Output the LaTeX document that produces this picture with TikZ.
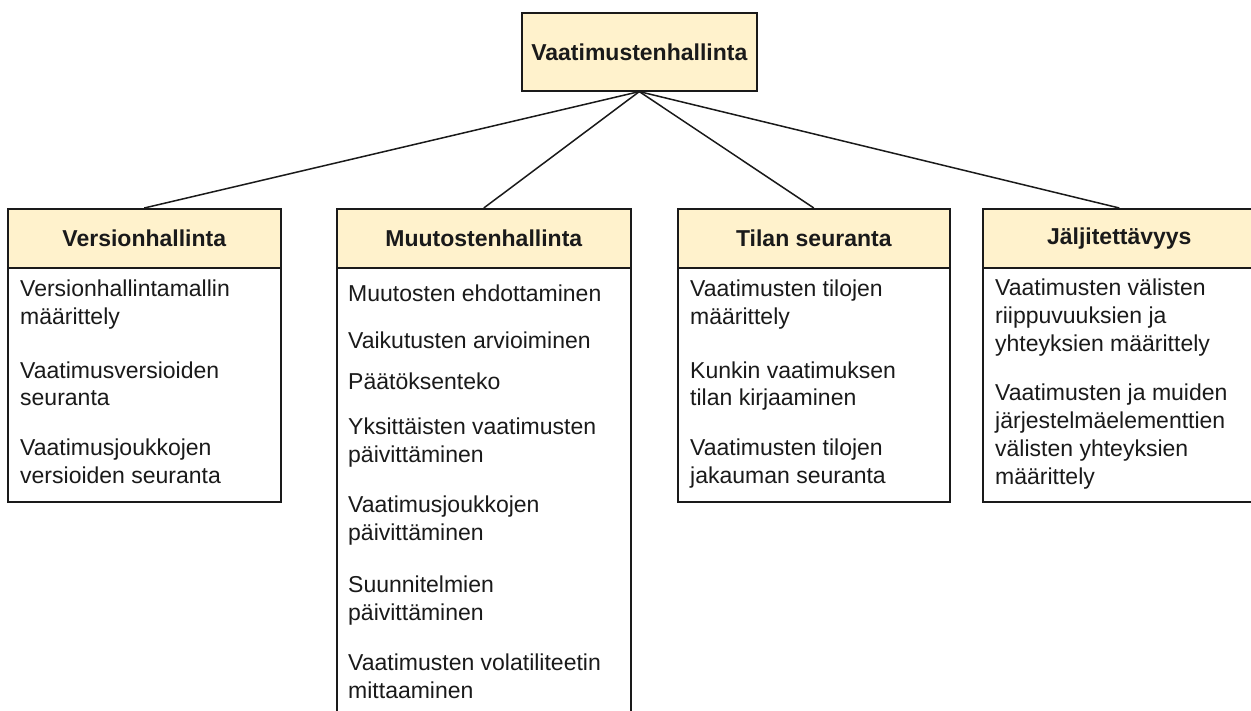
\documentclass[tikz,border=0pt]{standalone}
\usepackage{fontspec}
\setmainfont{Liberation Sans}
\definecolor{headfill}{HTML}{FFF2CC}
\definecolor{ink}{HTML}{1A1A1A}
\begin{document}
% item nodes are anchored at the baseline of their last line
\begin{tikzpicture}[x=1pt,y=-1pt,
  boxline/.style={draw=ink, line width=1.6pt},
  headbox/.style={boxline, fill=headfill, anchor=north west, inner sep=0pt,
    minimum height=59, text=ink, font=\fontsize{23}{28}\selectfont\bfseries},
  bodybox/.style={boxline, fill=white, anchor=north west, inner sep=0pt},
  item/.style={anchor=base west, inner sep=0pt, align=left, text=ink,
    font=\fontsize{23}{28}\selectfont},
  conn/.style={draw=ink, line width=1.5pt}]
\clip (0,0) rectangle (1251,711);
\fill[white] (0,0) rectangle (1251,711);

% root
\node[headbox, minimum width=235, minimum height=78] (root) at (521,12) {Vaatimustenhallinta};

% column bodies
\node[bodybox, minimum width=273, minimum height=234] (vbody) at (7,267) {};
\node[bodybox, minimum width=294, minimum height=470] (mbody) at (336,267) {};
\node[bodybox, minimum width=272, minimum height=234] (tbody) at (677,267) {};
\node[bodybox, minimum width=273, minimum height=234] (jbody) at (982,267) {};

% column headers
\node[headbox, minimum width=273] (vhead) at (7,208) {Versionhallinta};
\node[headbox, minimum width=294] (mhead) at (336,208) {Muutostenhallinta};
\node[headbox, minimum width=272] (thead) at (677,208) {Tilan seuranta};
\node[headbox, minimum width=273] (jhead) at (982,208) {Jäljitettävyys};

% connectors
\draw[conn] (root.south) -- (vhead.north);
\draw[conn] (root.south) -- (mhead.north);
\draw[conn] (root.south) -- (thead.north);
\draw[conn] (root.south) -- (jhead.north);

% Versionhallinta
\node[item] (v1) at (20,325) {Versionhallintamallin\\määrittely};
\node[item] (v2) at (20,406) {Vaatimusversioiden\\seuranta};
\node[item] (v3) at (20,483) {Vaatimusjoukkojen\\versioiden seuranta};

% Muutostenhallinta
\node[item] (m1) at (348,302) {Muutosten ehdottaminen};
\node[item] (m2) at (348,349) {Vaikutusten arvioiminen};
\node[item] (m3) at (348,389) {Päätöksenteko};
\node[item] (m4) at (348,462) {Yksittäisten vaatimusten\\päivittäminen};
\node[item] (m5) at (348,540) {Vaatimusjoukkojen\\päivittäminen};
\node[item] (m6) at (348,620) {Suunnitelmien\\päivittäminen};
\node[item] (m7) at (348,698) {Vaatimusten volatiliteetin\\mittaaminen};

% Tilan seuranta
\node[item] (t1) at (690,325) {Vaatimusten tilojen\\määrittely};
\node[item] (t2) at (690,406) {Kunkin vaatimuksen\\tilan kirjaaminen};
\node[item] (t3) at (690,483) {Vaatimusten tilojen\\jakauman seuranta};

% Jäljitettävyys
\node[item] (j1) at (995,352) {Vaatimusten välisten\\riippuvuuksien ja\\yhteyksien määrittely};
\node[item] (j2) at (995,484) {Vaatimusten ja muiden\\järjestelmäelementtien\\välisten yhteyksien\\määrittely};
\end{tikzpicture}
\end{document}
